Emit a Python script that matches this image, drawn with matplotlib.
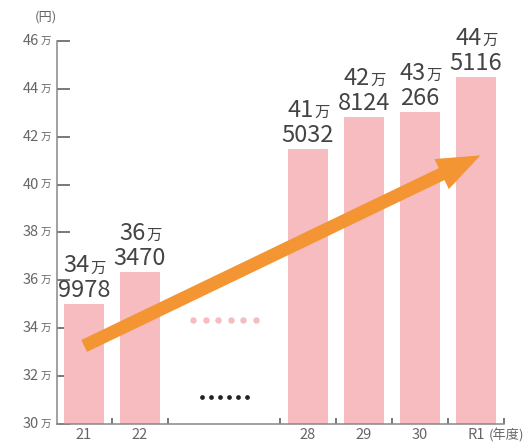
import matplotlib.pyplot as plt
import numpy as np

plt.rcParams['font.family'] = ['Noto Sans CJK JP', 'DejaVu Sans']

years = ["21", "22", "28", "29", "30", "R1"]
pos = [0, 1, 4, 5, 6, 7]
values = [349978, 363470, 415032, 428124, 430266, 445116]
man_part = ["34", "36", "41", "42", "43", "44"]
rest_part = ["9978", "3470", "5032", "8124", "266", "5116"]
yticks = [30, 32, 34, 36, 38, 40, 42, 44, 46]

bar_color = "#f6bcc0"
text_color = "#444444"
tick_color = "#666666"
axis_color = "#888888"

fig = plt.figure(figsize=(5.27, 4.43), dpi=100)
ax = fig.add_axes([0.1082, 0.0429, 0.848, 0.8646])

vals_man = [v / 10000 for v in values]
ax.bar(pos, vals_man, width=0.714, color=bar_color, zorder=2)

ax.set_xlim(-0.48, 7.5)
ax.set_ylim(30, 46)

for s in ["top", "right"]:
    ax.spines[s].set_visible(False)
for s in ["left", "bottom"]:
    ax.spines[s].set_color(axis_color)
    ax.spines[s].set_linewidth(1.1)

# y ticks inward, labels drawn by hand (number + small 万)
ax.set_yticks(yticks)
ax.set_yticklabels([])
ax.tick_params(axis="y", direction="in", length=9.5, width=1.1, color="#555555")
for t in yticks:
    ax.annotate(str(t), xy=(0, t), xycoords=("axes fraction", "data"),
                xytext=(-13, 0), textcoords="offset points",
                ha="right", va="center", fontsize=10.5, color=tick_color)
    ax.annotate("万", xy=(0, t), xycoords=("axes fraction", "data"),
                xytext=(-4, -0.5), textcoords="offset points",
                ha="right", va="center", fontsize=7.5, color=tick_color)

# x ticks at bar boundaries, labels under bars
ax.set_xticks([0.5, 1.5, 3.5, 4.5, 5.5, 6.5, 7.5])
ax.set_xticklabels([])
ax.tick_params(axis="x", direction="in", length=4.5, width=1.1, color="#555555")
for p, y in zip(pos, years):
    ax.annotate(y, xy=(p, 0), xycoords=("data", "axes fraction"),
                xytext=(0, -3), textcoords="offset points",
                ha="center", va="top", fontsize=10.5, color=tick_color)

ax.annotate("(年度)", xy=(7.5, 0), xycoords=("data", "axes fraction"),
            xytext=(-11, -3), textcoords="offset points",
            ha="left", va="top", fontsize=9.5, color=tick_color)
ax.annotate("(円)", xy=(0, 46), xycoords=("axes fraction", "data"),
            xytext=(-8, 17), textcoords="offset points",
            ha="center", va="center", fontsize=9.5, color=tick_color)

# value labels above bars
for p, v, m, r in zip(pos, vals_man, man_part, rest_part):
    ax.annotate(r, xy=(p, v), xytext=(0, 5), textcoords="offset points",
                ha="center", va="baseline", fontsize=17, color=text_color)
    ax.annotate(m, xy=(p, v), xytext=(4, 23), textcoords="offset points",
                ha="right", va="baseline", fontsize=17, color=text_color)
    ax.annotate("万", xy=(p, v), xytext=(4.5, 23), textcoords="offset points",
                ha="left", va="baseline", fontsize=11, color=text_color)

# omitted years markers
pink_x = np.linspace(1.95, 3.07, 6)
ax.plot(pink_x, [34.34] * 6, "o", color=bar_color, markersize=3.6, zorder=3)
black_x = np.linspace(2.1, 2.91, 6)
ax.plot(black_x, [31.13] * 6, "o", color="#222222", markersize=2.4, zorder=3)

# trend arrow
ax.annotate("", xy=(7.125, 41.27), xytext=(-0.04, 33.21),
            arrowprops=dict(arrowstyle="simple,head_length=3.1,head_width=2.4,tail_width=0.95",
                            mutation_scale=10, color="#f39533", lw=0),
            zorder=4)

fig.savefig("out.png", dpi=100)
